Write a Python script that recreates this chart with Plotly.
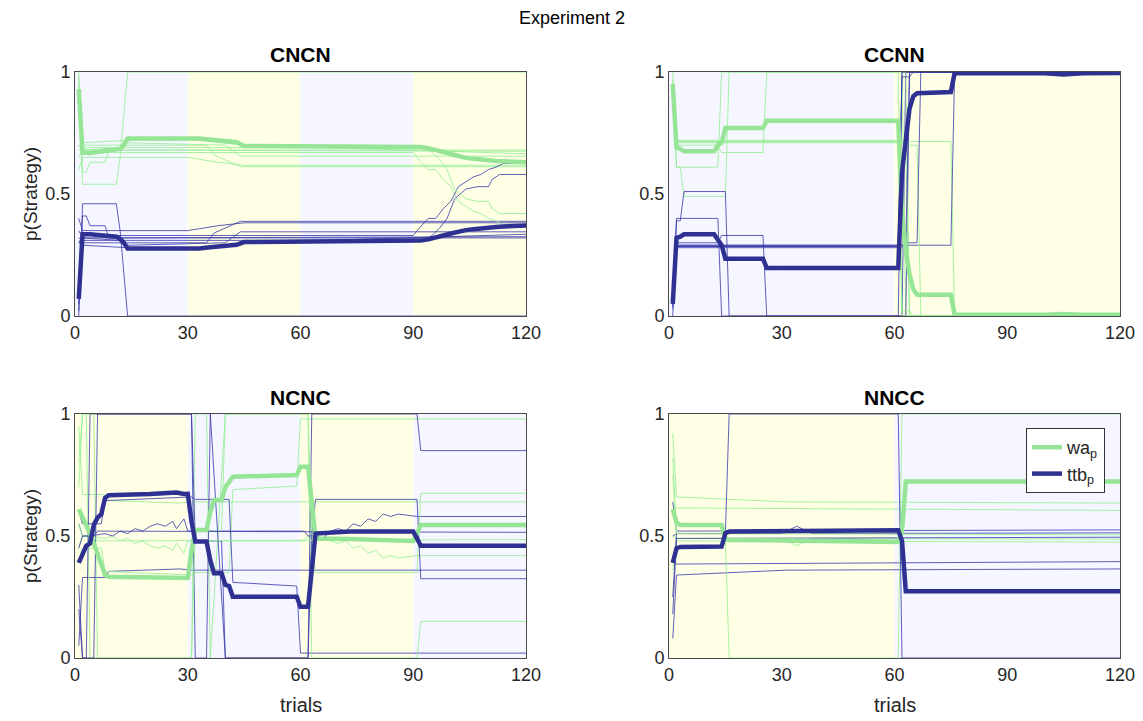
import plotly.graph_objects as go

# ---------------- data ----------------
conditions = ["CNCN", "CCNN", "NCNC", "NNCC"]
block_len = 30
x_ticks = [0, 30, 60, 90, 120]
y_ticks = [0, 0.5, 1]
y_tick_text = ["0", "0.5", "1"]

# CNCN
cncn_mean_x = [1, 2, 4, 8, 11, 12, 13, 14, 33, 36, 40, 43, 45, 90, 92, 94, 96, 98, 100, 102, 104, 106, 108, 110, 112, 114, 116, 118, 120]
cncn_wa_mean = [0.93, 0.67, 0.668, 0.675, 0.68, 0.685, 0.70, 0.727, 0.727, 0.722, 0.718, 0.712, 0.697, 0.697, 0.693, 0.688, 0.682, 0.672, 0.664, 0.655, 0.648, 0.644, 0.64, 0.637, 0.635, 0.634, 0.632, 0.631, 0.63]
cncn_ttb_mean = [0.07, 0.335, 0.335, 0.33, 0.325, 0.315, 0.30, 0.277, 0.277, 0.282, 0.287, 0.292, 0.303, 0.305, 0.309, 0.314, 0.32, 0.33, 0.338, 0.346, 0.352, 0.356, 0.36, 0.363, 0.365, 0.367, 0.369, 0.37, 0.371]
cncn_subj_x = [
    [1, 2, 11, 12, 14, 120],
    [1, 2, 3, 4, 8, 9, 120],
    [1, 2, 30, 38, 45, 120],
    [1, 2, 35, 37, 44, 120],
    [1, 2, 90, 91, 94, 96, 98, 100, 102, 104, 106, 108, 110, 112, 114, 120],
    [1, 2, 93, 95, 97, 99, 101, 104, 107, 110, 111, 113, 120],
    [1, 2, 120],
    [1, 2, 14, 33, 45, 120],
    [1, 2, 12, 14, 40, 44, 120],
]
cncn_subj_wa = [
    [1.0, 0.54, 0.54, 0.65, 1.0, 1.0],
    [0.98, 0.59, 0.59, 0.63, 0.63, 0.68, 0.68],
    [0.6, 0.65, 0.65, 0.63, 0.618, 0.618],
    [0.7, 0.70, 0.70, 0.66, 0.612, 0.612],
    [0.7, 0.67, 0.67, 0.65, 0.60, 0.60, 0.56, 0.53, 0.47, 0.45, 0.43, 0.42, 0.40, 0.39, 0.375, 0.375],
    [0.68, 0.69, 0.69, 0.67, 0.64, 0.60, 0.52, 0.48, 0.47, 0.47, 0.44, 0.42, 0.42],
    [0.65, 0.68, 0.675],
    [0.9, 0.71, 0.72, 0.72, 0.70, 0.665],
    [0.95, 0.68, 0.69, 0.71, 0.70, 0.655, 0.655],
]
cncn_subj_ttb = [
    [0.0, 0.46, 0.46, 0.35, 0.0, 0.0],
    [0.02, 0.41, 0.41, 0.37, 0.37, 0.32, 0.32],
    [0.4, 0.35, 0.35, 0.37, 0.382, 0.382],
    [0.3, 0.30, 0.30, 0.34, 0.388, 0.388],
    [0.3, 0.33, 0.33, 0.35, 0.40, 0.40, 0.44, 0.47, 0.53, 0.55, 0.57, 0.58, 0.60, 0.61, 0.625, 0.625],
    [0.32, 0.31, 0.31, 0.33, 0.36, 0.40, 0.48, 0.52, 0.53, 0.53, 0.56, 0.58, 0.58],
    [0.35, 0.32, 0.325],
    [0.1, 0.29, 0.28, 0.28, 0.30, 0.335],
    [0.05, 0.32, 0.31, 0.29, 0.30, 0.345, 0.345],
]

# CCNN
ccnn_mean_x = [1, 2, 3, 4, 12, 13, 14, 15, 25, 26, 61, 62, 63, 64, 65, 66, 75, 76, 100, 105, 110, 120]
ccnn_wa_mean = [0.95, 0.69, 0.685, 0.675, 0.675, 0.70, 0.71, 0.77, 0.77, 0.80, 0.80, 0.42, 0.27, 0.17, 0.11, 0.087, 0.087, 0.005, 0.005, 0.008, 0.005, 0.005]
ccnn_ttb_mean = [0.05, 0.32, 0.325, 0.335, 0.335, 0.31, 0.29, 0.235, 0.235, 0.197, 0.197, 0.59, 0.73, 0.85, 0.90, 0.913, 0.918, 0.996, 0.995, 0.99, 0.995, 0.996]
ccnn_subj_x = [
    [1, 2, 13, 14, 61, 62, 120],
    [1, 2, 3, 4, 15, 16, 62, 63, 120],
    [1, 2, 13, 14, 25, 26, 63, 64, 120],
    [1, 2, 61, 62, 120],
    [1, 2, 75, 76, 120],
    [1, 2, 62, 63, 66, 67, 120],
    [1, 2, 63, 64, 120],
    [1, 2, 61, 62, 64, 65, 120],
]
ccnn_subj_wa = [
    [1.0, 0.61, 0.61, 1.0, 1.0, 0.0, 0.0],
    [0.9, 0.61, 0.61, 0.49, 0.49, 1.0, 1.0, 0.0, 0.0],
    [0.95, 0.70, 0.70, 0.67, 0.67, 1.0, 1.0, 0.0, 0.0],
    [0.96, 0.715, 0.715, 0.0, 0.0],
    [0.95, 0.715, 0.715, 0.0, 0.0],
    [0.9, 0.72, 0.72, 0.70, 0.70, 0.0, 0.0],
    [0.93, 0.71, 0.71, 0.0, 0.0],
    [0.97, 0.715, 0.715, 0.02, 0.02, 0.0, 0.0],
]
ccnn_subj_ttb = [
    [0.0, 0.40, 0.40, 0.0, 0.0, 1.0, 1.0],
    [0.1, 0.39, 0.39, 0.51, 0.51, 0.0, 0.0, 1.0, 1.0],
    [0.05, 0.30, 0.30, 0.33, 0.33, 0.0, 0.0, 1.0, 1.0],
    [0.04, 0.285, 0.285, 1.0, 1.0],
    [0.05, 0.29, 0.29, 1.0, 1.0],
    [0.1, 0.28, 0.28, 0.30, 0.30, 1.0, 1.0],
    [0.07, 0.29, 0.29, 1.0, 1.0],
    [0.03, 0.285, 0.285, 0.98, 0.98, 1.0, 1.0],
]

# NCNC
ncnc_mean_x = [1, 2, 3, 4, 5, 6, 7, 8, 9, 20, 27, 29, 30, 31, 32, 35, 36, 37, 39, 40, 41, 42, 59, 60, 62, 63, 64, 73, 90, 91, 92, 120]
ncnc_ttb_mean = [0.39, 0.43, 0.46, 0.47, 0.545, 0.575, 0.59, 0.656, 0.667, 0.672, 0.678, 0.672, 0.673, 0.56, 0.477, 0.477, 0.40, 0.347, 0.347, 0.30, 0.295, 0.251, 0.251, 0.21, 0.21, 0.36, 0.51, 0.518, 0.518, 0.49, 0.46, 0.46]
ncnc_wa_mean = [0.61, 0.58, 0.54, 0.51, 0.47, 0.43, 0.38, 0.34, 0.333, 0.33, 0.328, 0.328, 0.328, 0.44, 0.525, 0.525, 0.60, 0.648, 0.648, 0.70, 0.72, 0.743, 0.75, 0.784, 0.784, 0.64, 0.49, 0.488, 0.48, 0.51, 0.545, 0.545]
ncnc_subj_x = [
    [1, 2, 8, 9, 28, 31, 120],
    [1, 2, 4, 8, 10, 12, 14, 16, 18, 20, 22, 24, 26, 27, 29, 30, 31, 61, 62, 64, 66, 68, 70, 72, 74, 76, 78, 80, 82, 84, 86, 88, 90, 91, 120],
    [1, 2, 7, 8, 31, 32, 41, 42, 59, 60, 120],
    [1, 2, 3, 4, 31, 32, 35, 36, 40, 62, 63, 91, 92, 120],
    [1, 2, 5, 6, 31, 32, 39, 40, 62, 63, 64, 91, 92, 120],
    [1, 2, 5, 6, 120],
]
ncnc_subj_ttb = [
    [0.05, 0.33, 0.33, 0.355, 0.365, 0.36, 0.36],
    [0.55, 0.5, 0.5, 0.51, 0.50, 0.52, 0.51, 0.53, 0.52, 0.54, 0.55, 0.54, 0.56, 0.53, 0.57, 0.52, 0.52, 0.52, 0.50, 0.50, 0.49, 0.52, 0.53, 0.52, 0.55, 0.54, 0.57, 0.56, 0.59, 0.58, 0.59, 0.585, 0.58, 0.58, 0.58],
    [0.6, 0.55, 0.55, 0.645, 0.66, 0.65, 0.65, 0.31, 0.295, 0.02, 0.02],
    [0.2, 0.0, 0.0, 1.0, 1.0, 0.0, 0.0, 1.0, 0.0, 0.0, 1.0, 1.0, 0.85, 0.85],
    [0.3, 0.0, 0.0, 1.0, 1.0, 0.48, 0.48, 0.0, 0.0, 0.5, 0.65, 0.65, 0.325, 0.325],
    [0.45, 0.5, 0.5, 0.52, 0.515],
]
ncnc_subj_wa = [
    [0.95, 0.67, 0.67, 0.645, 0.635, 0.64, 0.64],
    [0.45, 0.5, 0.5, 0.49, 0.50, 0.48, 0.49, 0.47, 0.48, 0.46, 0.45, 0.46, 0.44, 0.47, 0.43, 0.48, 0.48, 0.48, 0.50, 0.50, 0.51, 0.48, 0.47, 0.48, 0.45, 0.46, 0.43, 0.44, 0.41, 0.42, 0.41, 0.415, 0.42, 0.42, 0.42],
    [0.4, 0.45, 0.45, 0.355, 0.34, 0.35, 0.35, 0.69, 0.705, 0.98, 0.98],
    [0.8, 1.0, 1.0, 0.0, 0.0, 1.0, 1.0, 0.0, 1.0, 1.0, 0.0, 0.0, 0.15, 0.15],
    [0.7, 1.0, 1.0, 0.0, 0.0, 0.52, 0.52, 1.0, 1.0, 0.5, 0.35, 0.35, 0.675, 0.675],
    [0.55, 0.5, 0.5, 0.48, 0.485],
]

# NNCC
nncc_mean_x = [1, 2, 3, 14, 15, 16, 61, 62, 63, 120]
nncc_wa_mean = [0.61, 0.555, 0.545, 0.545, 0.49, 0.484, 0.476, 0.52, 0.723, 0.723]
nncc_ttb_mean = [0.39, 0.45, 0.455, 0.457, 0.512, 0.518, 0.524, 0.48, 0.274, 0.274]
nncc_subj_x = [
    [1, 2, 31, 120],
    [1, 2, 120],
    [1, 2, 15, 16, 61, 62, 120],
    [1, 2, 120],
    [1, 2, 30, 34, 38, 120],
    [1, 2, 120],
]
nncc_subj_wa = [
    [0.92, 0.66, 0.64, 0.635],
    [0.6, 0.615, 0.605],
    [0.5, 0.49, 0.49, 0.0, 0.0, 1.0, 1.0],
    [0.36, 0.48, 0.475],
    [0.75, 0.49, 0.49, 0.46, 0.49, 0.487],
    [0.82, 0.51, 0.505],
]
nncc_subj_ttb = [
    [0.08, 0.34, 0.36, 0.365],
    [0.4, 0.385, 0.395],
    [0.5, 0.51, 0.51, 1.0, 1.0, 0.0, 0.0],
    [0.64, 0.52, 0.525],
    [0.25, 0.51, 0.51, 0.54, 0.51, 0.513],
    [0.18, 0.49, 0.495],
]

# ---------------- styling ----------------
BG = {"C": "rgb(245,246,255)", "N": "rgb(255,255,229)"}
THICK_GREEN = "rgb(150,228,150)"
THICK_BLUE = "rgb(46,49,146)"
THIN_GREEN = "rgba(150,238,150,0.85)"
THIN_BLUE = "rgba(55,55,170,0.8)"
FONT = "Liberation Sans, Arial, sans-serif"
W, H = 1143, 721

panels = [
    (conditions[0], cncn_mean_x, cncn_wa_mean, cncn_ttb_mean, cncn_subj_x, cncn_subj_wa, cncn_subj_ttb),
    (conditions[1], ccnn_mean_x, ccnn_wa_mean, ccnn_ttb_mean, ccnn_subj_x, ccnn_subj_wa, ccnn_subj_ttb),
    (conditions[2], ncnc_mean_x, ncnc_wa_mean, ncnc_ttb_mean, ncnc_subj_x, ncnc_subj_wa, ncnc_subj_ttb),
    (conditions[3], nncc_mean_x, nncc_wa_mean, nncc_ttb_mean, nncc_subj_x, nncc_subj_wa, nncc_subj_ttb),
]

# axes pixel boxes (left, right, top, bottom) and title centre heights
boxes = [(75, 526, 72, 316), (669, 1120, 72, 316), (75, 526, 414, 658), (669, 1120, 414, 658)]
title_y = [55, 55, 397, 397]

fig = go.Figure()
layout = dict(
    width=W, height=H, autosize=False,
    margin=dict(l=0, r=0, t=0, b=0, pad=0, autoexpand=False),
    paper_bgcolor="white", plot_bgcolor="white",
    font=dict(family=FONT, color="#262626"),
    showlegend=True,
)

annotations = []
shapes = []
for i, (cond, mx, wam, ttbm, sx, swa, sttb) in enumerate(panels):
    n = i + 1
    xa = "x" if n == 1 else f"x{n}"
    ya = "y" if n == 1 else f"y{n}"
    l, r, t, b = boxes[i]
    common = dict(showgrid=False, zeroline=False, showline=True, mirror=True,
                  linecolor="#4a4a4a", linewidth=1, ticks="", automargin=False,
                  tickfont=dict(size=18, family=FONT, color="#262626"))
    layout["xaxis" if n == 1 else f"xaxis{n}"] = dict(
        domain=[l / W, r / W], anchor=ya, range=[0, 120],
        tickvals=x_ticks, **common)
    layout["yaxis" if n == 1 else f"yaxis{n}"] = dict(
        domain=[1 - b / H, 1 - t / H], anchor=xa, range=[0, 1],
        tickvals=y_ticks, ticktext=y_tick_text, **common)
    # background blocks
    for k, letter in enumerate(cond):
        shapes.append(dict(type="rect", xref=xa, yref=ya,
                           x0=k * block_len, x1=(k + 1) * block_len, y0=0, y1=1,
                           fillcolor=BG[letter], line=dict(width=0), layer="below"))
    # thin subject lines
    for xs, wa, tb in zip(sx, swa, sttb):
        fig.add_trace(go.Scatter(x=xs, y=wa, mode="lines", xaxis=xa, yaxis=ya,
                                 line=dict(color=THIN_GREEN, width=1), showlegend=False,
                                 hoverinfo="skip"))
        fig.add_trace(go.Scatter(x=xs, y=tb, mode="lines", xaxis=xa, yaxis=ya,
                                 line=dict(color=THIN_BLUE, width=1), showlegend=False,
                                 hoverinfo="skip"))
    # mean lines
    fig.add_trace(go.Scatter(x=mx, y=wam, mode="lines", xaxis=xa, yaxis=ya,
                             line=dict(color=THICK_GREEN, width=4.5),
                             name="wa<sub>p</sub>", showlegend=(n == 4)))
    fig.add_trace(go.Scatter(x=mx, y=ttbm, mode="lines", xaxis=xa, yaxis=ya,
                             line=dict(color=THICK_BLUE, width=4.5),
                             name="ttb<sub>p</sub>", showlegend=(n == 4)))
    # panel title
    annotations.append(dict(text=f"<b>{cond}</b>", x=(l + r) / 2 / W, y=1 - title_y[i] / H,
                            xref="paper", yref="paper", showarrow=False,
                            xanchor="center", yanchor="middle",
                            font=dict(size=21, family=FONT, color="black")))
    if l < 100:
        annotations.append(dict(text="p(Strategy)", x=30 / W, y=1 - (t + b) / 2 / H,
                                xref="paper", yref="paper", showarrow=False, textangle=-90,
                                xanchor="center", yanchor="middle",
                                font=dict(size=19, family=FONT, color="#262626")))
    if t > 300:
        annotations.append(dict(text="trials", x=(l + r) / 2 / W, y=1 - 705 / H,
                                xref="paper", yref="paper", showarrow=False,
                                xanchor="center", yanchor="middle",
                                font=dict(size=20, family=FONT, color="#262626")))

annotations.append(dict(text="Experiment 2", x=572 / W, y=1 - 18 / H, xref="paper", yref="paper",
                        showarrow=False, xanchor="center", yanchor="middle",
                        font=dict(size=18, family=FONT, color="black")))

layout["annotations"] = annotations
layout["shapes"] = shapes
layout["legend"] = dict(x=1105 / W, y=1 - 428 / H, xanchor="right", yanchor="top",
                        bgcolor="white", bordercolor="#333333", borderwidth=1,
                        font=dict(size=18, family=FONT, color="#262626"),
                        itemwidth=30, tracegroupgap=0)
fig.update_layout(**layout)

fig.write_html("out.html")
